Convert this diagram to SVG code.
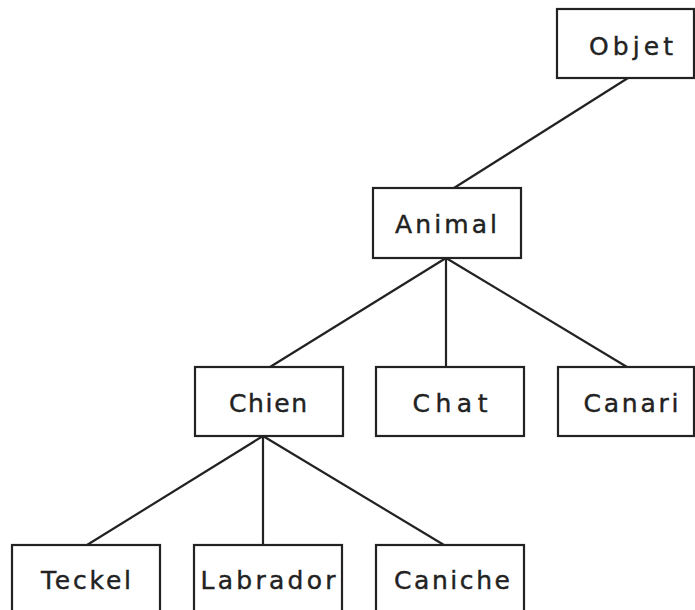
<svg xmlns="http://www.w3.org/2000/svg" width="695" height="610" viewBox="0 0 695 610">
<style>
.box{fill:#fff;stroke:#222;stroke-width:2.2}
.lbl{font-family:"DejaVu Sans","Liberation Sans",sans-serif;font-size:25px;fill:#222;stroke:#222;stroke-width:0.4;text-anchor:middle}
.edge{stroke:#222;stroke-width:2.2;fill:none}
</style>
<rect width="695" height="610" fill="#fff"/>
<g id="connectors">
<line class="edge" x1="628" y1="78" x2="454" y2="188"/>
<line class="edge" x1="446" y1="258" x2="270" y2="367"/>
<line class="edge" x1="446" y1="258" x2="446" y2="366"/>
<line class="edge" x1="446" y1="258" x2="627" y2="367"/>
<line class="edge" x1="263" y1="436" x2="87" y2="545"/>
<line class="edge" x1="263" y1="436" x2="263" y2="544"/>
<line class="edge" x1="263" y1="436" x2="444" y2="545"/>
</g>
<g id="objet"><rect class="box" x="557" y="9" width="137" height="69"/><text class="lbl" x="631" y="55" textLength="84" lengthAdjust="spacing">Objet</text></g>
<g id="animal"><rect class="box" x="373" y="188" width="148" height="70"/><text class="lbl" x="446" y="233" textLength="102" lengthAdjust="spacing">Animal</text></g>
<g id="chien"><rect class="box" x="195" y="367" width="148" height="69"/><text class="lbl" x="268" y="412" textLength="78" lengthAdjust="spacing">Chien</text></g>
<g id="chat"><rect class="box" x="376" y="367" width="148" height="69"/><text class="lbl" x="450" y="412" textLength="75" lengthAdjust="spacing">Chat</text></g>
<g id="canari"><rect class="box" x="558" y="367" width="136" height="69"/><text class="lbl" x="631" y="412" textLength="95" lengthAdjust="spacing">Canari</text></g>
<g id="teckel"><rect class="box" x="12" y="545" width="148" height="70"/><text class="lbl" x="86" y="589" textLength="90" lengthAdjust="spacing">Teckel</text></g>
<g id="labrador"><rect class="box" x="194" y="545" width="148" height="70"/><text class="lbl" x="268" y="589" textLength="135" lengthAdjust="spacing">Labrador</text></g>
<g id="caniche"><rect class="box" x="376" y="545" width="148" height="70"/><text class="lbl" x="452" y="589" textLength="116" lengthAdjust="spacing">Caniche</text></g>
</svg>
